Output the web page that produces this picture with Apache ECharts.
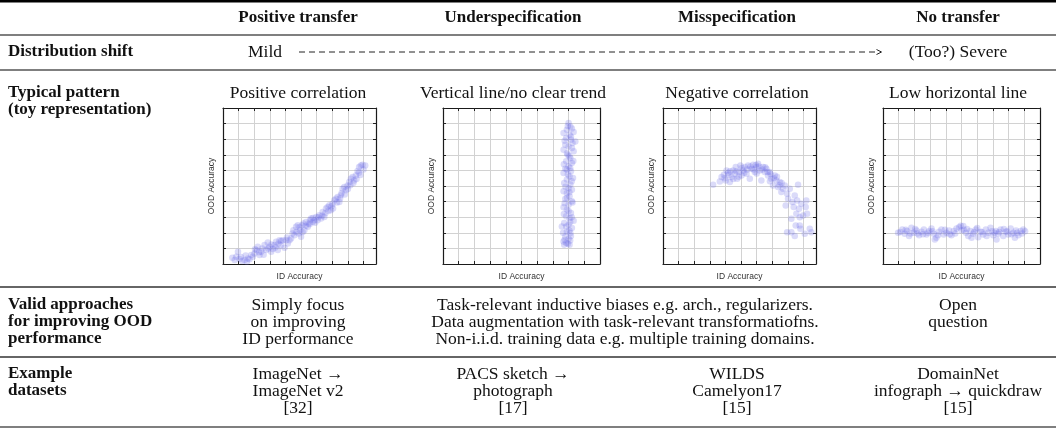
<!DOCTYPE html>
<html>
<head>
<meta charset="utf-8">
<script src="https://cdn.jsdelivr.net/npm/echarts@6/dist/echarts.min.js"></script>
<style>
  html, body { margin: 0; padding: 0; background: #fff; }
  #chart { width: 1056px; height: 444px; }
</style>
</head>
<body>
<div id="chart"></div>
<script>
// table text
const columns = ["Positive transfer", "Underspecification", "Misspecification", "No transfer"];
const patterns = ["Positive correlation", "Vertical line/no clear trend", "Negative correlation", "Low horizontal line"];
const rowHeads = [
  ["Distribution shift"],
  ["Typical pattern", "(toy representation)"],
  ["Valid approaches", "for improving OOD", "performance"],
  ["Example", "datasets"]
];
const shiftEnds = ["Mild", "(Too?) Severe"];
const approachFirst = ["Simply focus", "on improving", "ID performance"];
const approachMiddle = [
  "Task-relevant inductive biases e.g. arch., regularizers.",
  "Data augmentation with task-relevant transformatiofns.",
  "Non-i.i.d. training data e.g. multiple training domains."
];
const approachLast = ["Open", "question"];
const datasets = [
  ["ImageNet \u2192", "ImageNet v2", "[32]"],
  ["PACS sketch \u2192", "photograph", "[17]"],
  ["WILDS", "Camelyon17", "[15]"],
  ["DomainNet", "infograph \u2192 quickdraw", "[15]"]
];

// toy scatter points [ID accuracy, OOD accuracy]
const positivePts = [
  [0.60,0.40],[0.75,0.25],[0.85,0.47],[0.96,0.79],[1.06,0.32],[1.15,0.45],[1.23,0.19],[1.38,0.26],
  [1.45,0.55],[1.53,0.15],[1.60,0.35],[1.70,0.30],[1.81,0.57],[1.91,0.47],[2.02,0.68],[2.05,0.95],
  [2.13,0.89],[2.23,1.11],[2.30,0.75],[2.34,0.57],[2.45,0.79],[2.51,1.00],[2.60,0.60],[2.66,1.21],
  [2.77,0.89],[2.87,1.38],[2.90,1.00],[2.98,1.11],[3.09,0.79],[3.10,1.25],[3.19,0.96],[3.30,1.21],
  [3.35,1.05],[3.40,1.43],[3.51,0.89],[3.55,1.30],[3.62,1.53],[3.70,1.20],[3.72,1.47],[3.83,1.53],
  [3.94,1.04],[4.04,1.53],[4.10,1.70],[4.15,1.32],[4.26,1.53],[4.36,1.64],[4.45,1.95],[4.51,2.17],
  [4.57,1.85],[4.68,2.38],[4.70,2.05],[4.79,2.49],[4.85,1.96],[4.90,2.35],[4.94,2.17],[5.00,1.74],
  [5.06,2.49],[5.10,2.05],[5.15,2.60],[5.21,2.17],[5.30,2.45],[5.32,2.70],[5.43,2.38],[5.49,2.60],
  [5.55,2.55],[5.57,2.81],[5.64,2.91],[5.74,2.70],[5.75,2.95],[5.85,2.81],[5.90,2.65],[5.96,3.02],
  [6.06,2.81],[6.10,3.00],[6.17,3.13],[6.28,2.91],[6.35,3.10],[6.38,3.34],[6.49,3.02],[6.55,3.25],
  [6.60,3.55],[6.70,3.66],[6.75,3.40],[6.81,3.77],[6.91,3.45],[6.95,3.70],[7.02,3.87],[7.05,3.55],
  [7.13,4.09],[7.23,4.19],[7.30,3.95],[7.34,4.30],[7.45,3.98],[7.50,4.20],[7.55,4.40],[7.60,4.55],
  [7.66,4.83],[7.77,4.94],[7.80,4.45],[7.87,4.72],[7.98,5.04],[8.00,4.80],[8.09,5.26],[8.15,5.05],
  [8.19,5.47],[8.30,5.57],[8.35,5.20],[8.40,5.36],[8.51,5.68],[8.55,5.45],[8.62,5.96],[8.70,5.85],
  [8.72,6.21],[8.80,5.70],[8.83,6.32],[8.94,6.36],[9.00,6.05],[9.11,6.32]
];
const underPts = [
  [8.00,9.04],[8.11,8.82],[7.95,8.85],[7.89,8.61],[8.21,8.68],[7.68,8.40],[8.06,8.29],[8.32,8.46],
  [8.15,8.15],[7.85,8.08],[8.15,7.97],[7.75,7.90],[8.43,7.86],[8.25,7.75],[7.79,7.65],[8.00,7.54],
  [8.21,7.44],[7.68,7.33],[8.32,7.22],[7.90,7.10],[7.94,7.01],[8.05,6.90],[8.11,6.79],[8.30,6.60],
  [7.85,6.58],[8.21,6.47],[7.70,6.40],[8.00,6.26],[8.10,6.15],[7.79,6.11],[7.89,6.05],[8.15,5.94],
  [7.68,5.83],[7.95,5.75],[8.06,5.62],[8.28,5.51],[7.89,5.41],[8.20,5.30],[7.72,5.19],[8.11,5.09],
  [7.80,4.95],[8.00,4.87],[8.21,4.76],[7.68,4.66],[8.05,4.60],[7.89,4.55],[8.06,4.34],[7.90,4.25],
  [7.79,4.19],[8.21,4.02],[8.25,3.95],[7.75,3.90],[8.00,3.80],[7.68,3.63],[7.89,3.48],[8.00,3.40],
  [8.15,3.27],[7.70,3.20],[7.85,3.06],[8.20,3.00],[8.06,2.95],[8.32,2.78],[8.10,2.70],[7.72,2.63],
  [8.00,2.52],[7.57,2.41],[7.85,2.40],[8.21,2.31],[8.05,2.15],[7.89,2.09],[7.65,2.00],[8.11,1.99],
  [8.15,1.80],[7.79,1.77],[8.00,1.62],[7.75,1.55],[8.10,1.50],[7.68,1.45],[7.85,1.35],[7.95,1.30],
  [7.72,1.24],[8.06,1.24]
];
const misPts = [
  [3.21,5.08],[3.64,5.29],[3.75,5.57],[3.90,5.72],[3.95,5.50],[4.02,5.35],[4.07,6.00],[4.17,5.85],
  [4.20,5.70],[4.28,5.25],[4.30,5.95],[4.39,5.57],[4.49,6.00],[4.50,5.45],[4.60,5.78],[4.66,6.21],
  [4.70,5.95],[4.75,5.46],[4.85,5.60],[4.88,5.89],[4.96,6.32],[5.03,5.68],[5.05,6.15],[5.13,6.00],
  [5.20,5.85],[5.24,6.21],[5.35,5.78],[5.40,6.05],[5.45,6.32],[5.56,5.46],[5.60,6.25],[5.67,6.10],
  [5.77,6.36],[5.80,6.05],[5.88,5.89],[5.95,6.35],[5.99,6.21],[6.00,5.80],[6.09,6.42],[6.15,6.25],
  [6.20,6.00],[6.30,5.35],[6.35,6.05],[6.41,6.21],[6.52,5.89],[6.55,6.20],[6.62,6.10],[6.70,5.90],
  [6.73,5.68],[6.84,5.89],[6.85,5.30],[6.90,5.75],[6.94,5.46],[7.05,5.03],[7.10,5.50],[7.16,5.68],
  [7.26,5.35],[7.30,5.60],[7.37,4.93],[7.45,5.05],[7.48,5.25],[7.58,4.61],[7.60,5.20],[7.69,4.82],
  [7.80,5.03],[7.86,3.75],[7.95,4.50],[7.95,2.04],[8.01,4.18],[8.12,4.82],[8.22,2.90],[8.22,2.04],
  [8.29,3.97],[8.37,3.65],[8.44,4.39],[8.44,1.79],[8.50,2.47],[8.54,3.22],[8.59,4.07],[8.65,5.08],
  [8.71,3.54],[8.76,3.00],[8.76,2.47],[8.80,2.26],[8.86,3.86],[8.97,3.11],[9.08,1.94],[9.14,3.65],
  [9.18,4.07],[9.23,3.22],[9.40,2.26],[9.50,2.04]
];
const noPts = [
  [0.96,2.00],[1.10,2.05],[1.23,2.21],[1.38,1.94],[1.45,2.20],[1.53,2.11],[1.66,1.79],[1.75,1.95],
  [1.81,2.32],[1.96,2.00],[2.05,2.25],[2.13,2.15],[2.20,1.95],[2.30,1.85],[2.45,2.06],[2.55,1.90],
  [2.60,2.21],[2.77,1.89],[2.85,2.00],[2.94,2.11],[3.09,2.28],[3.15,2.10],[3.23,1.94],[3.30,1.57],
  [3.40,1.68],[3.50,1.85],[3.57,2.06],[3.72,2.21],[3.87,1.89],[3.95,2.20],[4.04,2.00],[4.21,2.15],
  [4.25,1.90],[4.36,1.85],[4.51,2.11],[4.60,1.95],[4.68,2.28],[4.85,2.36],[4.95,2.45],[5.00,2.15],
  [5.11,2.43],[5.15,2.20],[5.28,2.00],[5.35,2.25],[5.43,1.79],[5.57,2.11],[5.64,1.68],[5.74,1.94],
  [5.80,2.05],[5.91,2.21],[6.00,2.30],[6.06,1.72],[6.21,2.06],[6.30,2.05],[6.38,1.89],[6.55,2.21],
  [6.60,1.80],[6.70,2.00],[6.85,2.32],[6.95,2.10],[7.02,1.85],[7.10,2.00],[7.19,2.11],[7.23,1.57],
  [7.34,1.94],[7.40,2.05],[7.49,2.21],[7.66,1.79],[7.70,2.25],[7.83,2.06],[7.90,2.10],[7.98,1.89],
  [8.13,2.28],[8.20,1.90],[8.30,2.00],[8.40,1.68],[8.47,2.15],[8.55,2.00],[8.62,1.85],[8.77,2.11],
  [8.85,1.95],[8.94,2.21],[9.05,2.10]
];

const plotPts = [positivePts, underPts, misPts, noPts];
const plotXMax = [9.8, 10, 9.8, 10];
const plotLeft = [223, 443, 663, 883];
const plotWidth = [153, 157, 153, 157];
const colX = [298, 513, 737, 958];
const midX = 625;

const serif = "'Liberation Serif', 'Times New Roman', serif";
const fs = 17.5;
const lineGap = 17.3;

let chart = echarts.init(document.getElementById("chart"));

function txt(str, x, y, bold, align) {
  return {
    type: "text",
    silent: true,
    style: {
      text: str,
      x: x,
      y: y,
      fill: "#111",
      fontFamily: serif,
      fontSize: bold ? fs - 0.5 : fs,
      fontWeight: bold ? "bold" : "normal",
      textAlign: align || "center",
      textVerticalAlign: "middle"
    }
  };
}
function rule(y, w, color) {
  return {
    type: "line",
    silent: true,
    shape: { x1: 0, y1: y, x2: 1056, y2: y },
    style: { stroke: color, lineWidth: w }
  };
}

let graphics = [];
// rules
graphics.push(rule(1.2, 2.4, "#000"));
graphics.push(rule(35, 1.3, "#555"));
graphics.push(rule(70, 1.3, "#555"));
graphics.push(rule(287, 1.3, "#333"));
graphics.push(rule(357, 1.3, "#333"));
graphics.push(rule(427, 1.3, "#555"));

// header
columns.forEach((c, i) => graphics.push(txt(c, colX[i], 18, true)));
// row heads
const rowY = [[52], [93, 110], [305, 322, 339], [374, 391]];
rowHeads.forEach((lines, r) => {
  lines.forEach((l, k) => graphics.push(txt(l, 8, rowY[r][k], true, "left")));
});
// distribution shift
graphics.push(txt(shiftEnds[0], 265, 52));
graphics.push(txt(shiftEnds[1], colX[3], 52));
graphics.push({
  type: "line", silent: true,
  shape: { x1: 299, y1: 52, x2: 879, y2: 52 },
  style: { stroke: "#222", lineWidth: 1, lineDash: [6, 4] }
});
graphics.push({
  type: "polyline", silent: true,
  shape: { points: [[876.5, 49.5], [881.5, 52], [876.5, 54.5]] },
  style: { stroke: "#222", lineWidth: 1, fill: null }
});
// patterns
patterns.forEach((p, i) => graphics.push(txt(p, colX[i], 93)));
// approaches
approachFirst.forEach((l, k) => graphics.push(txt(l, colX[0], 305 + k * lineGap)));
approachMiddle.forEach((l, k) => graphics.push(txt(l, midX, 305 + k * lineGap)));
approachLast.forEach((l, k) => graphics.push(txt(l, colX[3], 305 + k * lineGap)));
// datasets
datasets.forEach((lines, i) => {
  lines.forEach((l, k) => graphics.push(txt(l, colX[i], 374 + k * lineGap)));
});

// grids and axes
let grids = [], xAxes = [], yAxes = [], series = [];
const sans = "'Liberation Sans', Arial, sans-serif";
plotPts.forEach((pts, i) => {
  grids.push({ left: plotLeft[i], top: 108, width: plotWidth[i], height: 156 });
  let base = {
    type: "value",
    gridIndex: i,
    min: 0,
    interval: 1,
    axisLabel: { show: false },
    axisLine: { show: true, onZero: false, lineStyle: { color: "#1a1a1a", width: 1.2 } },
    axisTick: { show: true, inside: true, length: 3, lineStyle: { color: "#222" } }
  };
  xAxes.push(Object.assign({}, base, {
    max: plotXMax[i],
    position: "bottom",
    splitLine: { show: true, lineStyle: { color: "#d2d2d2", width: 1 } },
    name: "ID Accuracy",
    nameLocation: "middle",
    nameGap: 8,
    nameTextStyle: { fontFamily: sans, fontSize: 8.5, color: "#333" }
  }));
  xAxes.push(Object.assign({}, base, {
    max: plotXMax[i], position: "top", splitLine: { show: false }
  }));
  yAxes.push(Object.assign({}, base, {
    max: 10,
    position: "left",
    splitLine: { show: true, lineStyle: { color: "#d2d2d2", width: 1 } },
    name: "OOD Accuracy",
    nameLocation: "middle",
    nameGap: 7,
    nameTextStyle: { fontFamily: sans, fontSize: 8.5, color: "#333" }
  }));
  yAxes.push(Object.assign({}, base, {
    max: 10, position: "right", splitLine: { show: false }
  }));
  series.push({
    type: "scatter",
    xAxisIndex: 2 * i,
    yAxisIndex: 2 * i,
    symbolSize: 6.5,
    itemStyle: { color: "rgba(105,105,230,0.3)" },
    silent: true,
    data: pts
  });
});

chart.setOption({
  animation: false,
  grid: grids,
  xAxis: xAxes,
  yAxis: yAxes,
  series: series,
  graphic: graphics
});
</script>
</body>
</html>
